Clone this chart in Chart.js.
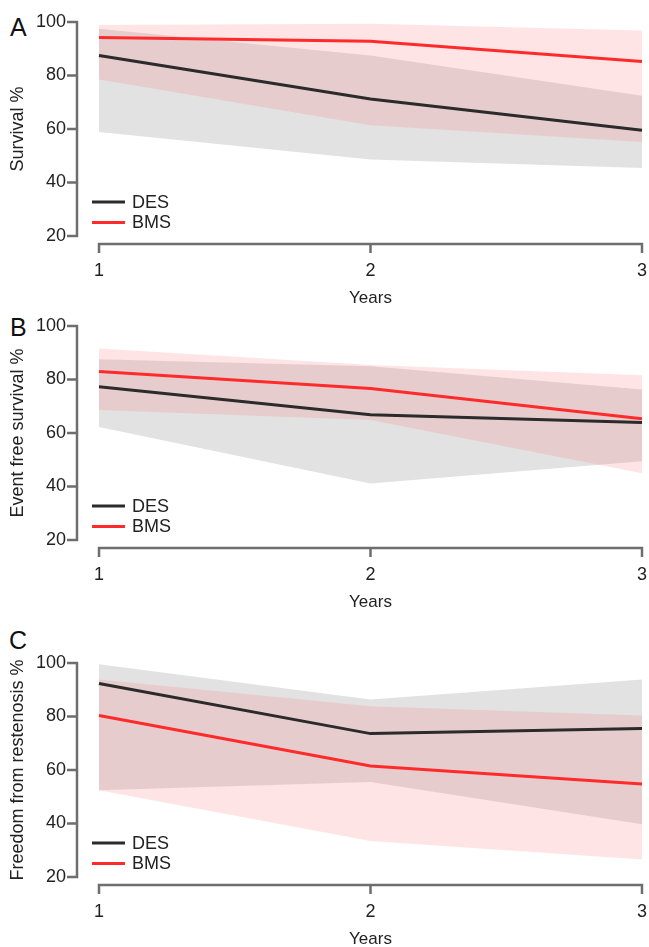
<!DOCTYPE html>
<html>
<head>
<meta charset="utf-8">
<script src="https://cdn.jsdelivr.net/npm/chart.js@4.4.0/dist/chart.umd.min.js"></script>
<style>
  body { margin: 0; width: 649px; height: 947px; overflow: hidden; background: #fff; position: relative;
         font-family: "Liberation Sans", Arial, sans-serif; }
  .panel { position: absolute; left: 0; width: 660px; height: 311px; }
  .tag { position: absolute; font-size: 25px; line-height: 24px; color: #111; }
</style>
</head>
<body>
<div class="tag" style="left:10px;top:15px">A</div>
<div class="tag" style="left:10px;top:315px">B</div>
<div class="tag" style="left:9px;top:628px">C</div>
<div class="panel" style="top:0px"><canvas id="chartA" width="660" height="311"></canvas></div>
<div class="panel" style="top:304px"><canvas id="chartB" width="660" height="311"></canvas></div>
<div class="panel" style="top:641px"><canvas id="chartC" width="660" height="311"></canvas></div>
<script>
const years = ['1', '2', '3'];
const yTicks = [20, 40, 60, 80, 100];

// A - survival
const desA = [87.5, 71.2, 59.5];
const bmsA = [94.2, 92.8, 85.2];
const desAHi = [97.5, 87.5, 72.4];
const desALo = [58.9, 48.6, 45.4];
const bmsAHi = [98.9, 99.3, 96.8];
const bmsALo = [78.5, 61.4, 55.1];

// B - event free survival
const desB = [77.3, 66.8, 63.9];
const bmsB = [83.0, 76.6, 65.3];
const desBHi = [87.6, 85.0, 76.3];
const desBLo = [62.2, 41.1, 49.4];
const bmsBHi = [91.6, 85.4, 81.6];
const bmsBLo = [68.6, 64.9, 45.0];

// C - freedom from restenosis
const desC = [92.3, 73.6, 75.5];
const bmsC = [80.4, 61.5, 54.8];
const desCHi = [99.5, 86.4, 93.8];
const desCLo = [52.4, 55.5, 39.7];
const bmsCHi = [93.8, 83.8, 80.4];
const bmsCLo = [52.4, 33.5, 26.5];

const axisColor = '#6e6e6e';
const textColor = '#222';
const desColor = '#2b2b2b';
const bmsColor = '#ff2b2b';
const desBand = 'rgba(160,160,160,0.3)';
const bmsBand = 'rgba(255,105,110,0.18)';
const fontFamily = '"Liberation Sans", Arial, sans-serif';

// R style axes (detached from the plot) + legend in the lower left corner
const rAxes = {
  id: 'rAxes',
  afterDraw(chart) {
    const { ctx, chartArea, scales: { x, y } } = chart;
    const ax = chartArea.left - 22;
    const ay = chartArea.bottom + 8;
    ctx.save();
    ctx.strokeStyle = axisColor;
    ctx.lineWidth = 2.5;
    ctx.beginPath();
    ctx.moveTo(ax - 10, y.getPixelForValue(100));
    ctx.lineTo(ax, y.getPixelForValue(100));
    ctx.lineTo(ax, y.getPixelForValue(20));
    ctx.lineTo(ax - 10, y.getPixelForValue(20));
    yTicks.forEach(v => {
      const py = y.getPixelForValue(v);
      ctx.moveTo(ax - 10, py);
      ctx.lineTo(ax, py);
    });
    ctx.moveTo(x.getPixelForValue(0), ay + 9);
    ctx.lineTo(x.getPixelForValue(0), ay);
    ctx.lineTo(x.getPixelForValue(2), ay);
    ctx.lineTo(x.getPixelForValue(2), ay + 9);
    ctx.moveTo(x.getPixelForValue(1), ay);
    ctx.lineTo(x.getPixelForValue(1), ay + 9);
    ctx.stroke();

    const lines = chart.data.datasets.filter(d => d.isLine);
    ctx.font = '18px ' + fontFamily;
    ctx.textBaseline = 'middle';
    ctx.fillStyle = textColor;
    lines.forEach((d, i) => {
      const ly = chartArea.bottom - 34 + i * 20.5;
      ctx.strokeStyle = d.borderColor;
      ctx.lineWidth = 3;
      ctx.beginPath();
      ctx.moveTo(chartArea.left - 7, ly);
      ctx.lineTo(chartArea.left + 26, ly);
      ctx.stroke();
      ctx.fillText(d.label, chartArea.left + 33, ly + 1);
    });
    ctx.restore();
  }
};

const band = (data, color, fill, order) => ({
  data: data,
  backgroundColor: color,
  borderWidth: 0,
  pointRadius: 0,
  fill: fill,
  order: order
});

const makeChart = (id, title, des, bms, desHi, desLo, bmsHi, bmsLo) => {
  const ctx = document.getElementById(id).getContext('2d');
  new Chart(ctx, {
    type: 'line',
    data: {
      labels: years,
      datasets: [
        band(desHi, desBand, '+1', 3),
        band(desLo, desBand, false, 3),
        band(bmsHi, bmsBand, '+1', 2),
        band(bmsLo, bmsBand, false, 2),
        { label: 'DES', isLine: true, data: des, borderColor: desColor, borderWidth: 3, pointRadius: 0, tension: 0, fill: false, order: 1 },
        { label: 'BMS', isLine: true, data: bms, borderColor: bmsColor, borderWidth: 3, pointRadius: 0, tension: 0, fill: false, order: 0 }
      ]
    },
    options: {
      responsive: false,
      animation: false,
      layout: { padding: { top: 22, right: 18, left: 0, bottom: 0 } },
      plugins: { legend: { display: false }, tooltip: { enabled: false } },
      scales: {
        x: {
          offset: false,
          grid: { display: false, drawTicks: false },
          border: { display: false },
          ticks: { color: textColor, padding: 24, font: { family: fontFamily, size: 18 } },
          title: { display: true, text: 'Years', color: textColor, padding: { top: 0, bottom: 2 },
                   font: { family: fontFamily, size: 17 } },
          // tick padding would otherwise push the plot in from the right
          afterFit: s => { s.height = 75; s.paddingLeft = 0; s.paddingRight = 0; }
        },
        y: {
          min: 20,
          max: 100,
          grid: { display: false, drawTicks: false },
          border: { display: false },
          ticks: { stepSize: 20, color: textColor, padding: 33, font: { family: fontFamily, size: 18 } },
          title: { display: true, text: title, color: textColor, padding: { top: 7, bottom: 0 },
                   font: { family: fontFamily, size: 18 } },
          afterFit: s => { s.width = 99; s.paddingTop = 0; s.paddingBottom = 0; }
        }
      }
    },
    plugins: [rAxes]
  });
};

document.addEventListener('DOMContentLoaded', () => {
  makeChart('chartA', 'Survival %', desA, bmsA, desAHi, desALo, bmsAHi, bmsALo);
  makeChart('chartB', 'Event free survival %', desB, bmsB, desBHi, desBLo, bmsBHi, bmsBLo);
  makeChart('chartC', 'Freedom from restenosis %', desC, bmsC, desCHi, desCLo, bmsCHi, bmsCLo);
});
</script>
</body>
</html>
